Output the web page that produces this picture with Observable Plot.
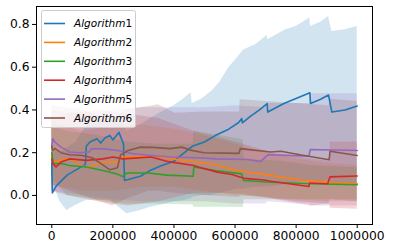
<!DOCTYPE html>
<html><head><meta charset="utf-8">
<script src="https://cdn.jsdelivr.net/npm/d3@7"></script>
<script src="https://cdn.jsdelivr.net/npm/@observablehq/plot@0.6"></script>
<style>
body{margin:0;background:#fff}
#chart svg{font-family:"DejaVu Sans",sans-serif}
</style>
</head><body><div id="chart"></div>
<script>
const names = ["Algorithm1","Algorithm2","Algorithm3","Algorithm4","Algorithm5","Algorithm6"];
const colors = ["#1f77b4","#ff7f0e","#2ca02c","#d62728","#9467bd","#8c564b"];
const xTicks = [0,200000,400000,600000,800000,1000000];
const yTicks = [0,0.2,0.4,0.6,0.8];

// x values in thousands of steps
const a1X = [0,2,15,50,92,110,113,125,148,160,175,190,200,220,235,238,290,320,360,400,425,460,500,535,579,611,622,624,650,680,705,707,760,845,847,880,906,917,960,1000];
const a1Mean = [0.15,0.012,0.045,0.095,0.13,0.145,0.23,0.25,0.265,0.245,0.27,0.28,0.26,0.295,0.24,0.07,0.09,0.115,0.14,0.16,0.19,0.23,0.25,0.28,0.31,0.34,0.36,0.34,0.37,0.40,0.43,0.39,0.43,0.48,0.43,0.45,0.47,0.39,0.40,0.418];
const a1BandX = [0,27,49,80,115,191,224,246,290,323,360,400,430,456,460,490,524,550,579,605,628,667,694,705,707,766,800,845,847,880,906,917,960,1000];
const a1Lo = [0.07,-0.03,-0.07,-0.045,-0.023,-0.023,-0.06,-0.086,-0.07,-0.055,-0.045,-0.03,-0.025,-0.016,-0.01,0.0,0.0,0.01,0.02,0.03,0.03,0.04,0.04,0.045,0.04,0.05,0.06,0.07,0.06,0.06,0.07,0.05,0.05,0.046];
const a1Hi = [0.22,0.2,0.22,0.25,0.33,0.36,0.37,0.3,0.33,0.36,0.39,0.42,0.45,0.48,0.43,0.45,0.487,0.53,0.596,0.64,0.68,0.705,0.736,0.75,0.728,0.775,0.79,0.83,0.79,0.81,0.837,0.767,0.775,0.79];

const a2X = [0,5,14,47,80,85,123,167,211,233,326,382,425,454,530,607,717,826,914,1000];
const a2Mean = [0.19,0.15,0.16,0.171,0.164,0.14,0.133,0.156,0.156,0.18,0.183,0.175,0.165,0.16,0.145,0.117,0.094,0.07,0.062,0.055];
const a2BandX = [0,100,200,300,400,500,600,700,800,900,1000];
const a2Lo = [0.05,0.02,0.02,0.04,0.04,0.02,0.0,-0.01,-0.02,-0.03,-0.03];
const a2Hi = [0.34,0.30,0.32,0.33,0.31,0.28,0.24,0.2,0.17,0.15,0.14];

const a3X = [0,5,36,58,113,167,211,233,245,316,378,463,465,535,622,628,717,848,1000];
const a3Mean = [0.2,0.15,0.148,0.14,0.133,0.117,0.101,0.088,0.105,0.105,0.095,0.09,0.133,0.117,0.101,0.07,0.062,0.055,0.05];
const a3BandX = [0,50,150,240,350,463,465,550,627,629,750,850,1000];
const a3Lo = [0.08,0.0,-0.02,-0.04,-0.04,-0.045,-0.055,-0.055,-0.057,-0.02,-0.02,-0.02,-0.02];
const a3Hi = [0.32,0.3,0.28,0.25,0.24,0.24,0.3,0.28,0.26,0.17,0.16,0.14,0.13];

const a4X = [0,3,14,30,58,113,167,200,233,326,382,465,480,542,590,629,694,717,842,844,903,911,1000];
const a4Mean = [0.17,0.15,0.133,0.156,0.171,0.164,0.171,0.18,0.171,0.18,0.158,0.14,0.133,0.109,0.098,0.08,0.072,0.066,0.042,0.058,0.055,0.087,0.091];
const a4BandX = [0,50,150,250,350,465,550,628,717,848,910,912,1000];
const a4Lo = [0.02,0.0,-0.03,-0.05,-0.03,0.01,0.01,0.005,-0.015,-0.05,-0.04,-0.06,-0.065];
const a4Hi = [0.36,0.38,0.4,0.38,0.36,0.3,0.27,0.24,0.2,0.17,0.16,0.25,0.25];

const a5X = [0,3,10,30,41,58,91,123,129,167,217,266,326,388,498,535,640,684,708,842,846,1000];
const a5Mean = [0.226,0.265,0.25,0.226,0.218,0.203,0.2,0.203,0.218,0.218,0.21,0.195,0.187,0.18,0.175,0.171,0.168,0.159,0.19,0.184,0.215,0.21];
const a5BandX = [0,100,200,300,400,500,600,700,708,800,845,847,1000];
const a5Lo = [0.02,0.0,-0.02,-0.03,-0.03,-0.03,-0.04,-0.04,-0.03,-0.04,-0.04,-0.05,-0.05];
const a5Hi = [0.4,0.38,0.4,0.41,0.41,0.41,0.42,0.41,0.43,0.43,0.43,0.476,0.476];

const a6X = [0,3,10,30,58,101,134,160,190,215,225,250,290,330,388,425,454,498,613,617,717,750,826,908,911,1000];
const a6Mean = [0.23,0.21,0.22,0.2,0.19,0.187,0.175,0.15,0.12,0.13,0.19,0.21,0.226,0.225,0.219,0.226,0.212,0.2,0.197,0.219,0.203,0.207,0.187,0.167,0.207,0.187];
const a6BandX = [0,100,200,240,316,349,404,500,615,617,700,800,908,911,1000];
const a6Lo = [0.05,0.0,-0.05,-0.02,0.02,0.02,0.01,0.0,-0.01,0.0,-0.01,-0.03,-0.04,-0.02,-0.03];
const a6Hi = [0.42,0.4,0.35,0.4,0.416,0.424,0.385,0.39,0.39,0.448,0.44,0.43,0.42,0.45,0.44];

const series = [
  {x:a1X, mean:a1Mean, bx:a1BandX, lo:a1Lo, hi:a1Hi},
  {x:a2X, mean:a2Mean, bx:a2BandX, lo:a2Lo, hi:a2Hi},
  {x:a3X, mean:a3Mean, bx:a3BandX, lo:a3Lo, hi:a3Hi},
  {x:a4X, mean:a4Mean, bx:a4BandX, lo:a4Lo, hi:a4Hi},
  {x:a5X, mean:a5Mean, bx:a5BandX, lo:a5Lo, hi:a5Hi},
  {x:a6X, mean:a6Mean, bx:a6BandX, lo:a6Lo, hi:a6Hi}
];
const lineData = series.flatMap((s,i) => s.x.map((x,j) => ({name:names[i], x:x*1000, y:s.mean[j]})));
const bandData = series.flatMap((s,i) => s.bx.map((x,j) => ({name:names[i], x:x*1000, lo:s.lo[j], hi:s.hi[j]})));

const plot = Plot.plot({
  width: 393, height: 252,
  marginLeft: 36, marginRight: 21, marginTop: 6, marginBottom: 28,
  style: {fontFamily: "DejaVu Sans", background: "#fff", color: "#000"},
  x: {domain: [-50000, 1050000]},
  y: {domain: [-0.136, 0.884]},
  color: {domain: names, range: colors},
  marks: [
    Plot.areaY(bandData, {x:"x", y1:"lo", y2:"hi", z:"name", fill:"name", fillOpacity:0.2}),
    Plot.line(lineData, {x:"x", y:"y", z:"name", stroke:"name", strokeWidth:1.6}),
    Plot.axisX({ticks: xTicks, tickFormat: d => String(d), tickSize: 4, tickPadding: 3, label: null}),
    Plot.axisY({ticks: yTicks, tickFormat: d3.format(".1f"), tickSize: 4, tickPadding: 3, label: null}),
    Plot.frame({stroke: "#000", strokeWidth: 1})
  ]
});
document.getElementById("chart").appendChild(plot);

const svg = d3.select(plot);
svg.selectAll("text").style("font-size", "12.3px").style("font-family", "DejaVu Sans");

// legend
const lg = svg.append("g").attr("text-anchor", "start");
lg.append("rect").attr("x", 41.5).attr("y", 10.5).attr("width", 94).attr("height", 117)
  .attr("rx", 2).attr("fill", "#fff").attr("fill-opacity", 0.8).attr("stroke", "#ccc");
names.forEach((n, i) => {
  const yy = 23.5 + i * 18.9;
  lg.append("line").attr("x1", 44).attr("x2", 65).attr("y1", yy).attr("y2", yy)
    .attr("stroke", colors[i]).attr("stroke-width", 1.6);
  const t = lg.append("text").attr("x", 74).attr("y", yy + 3.8).attr("text-anchor", "start")
    .style("font-size", "10.5px").style("font-family", "DejaVu Sans").attr("fill", "#000");
  t.append("tspan").attr("font-style", "italic").text(n.replace(/\d+$/, ""));
  t.append("tspan").text(n.match(/\d+$/)[0]);
});
</script></body></html>
